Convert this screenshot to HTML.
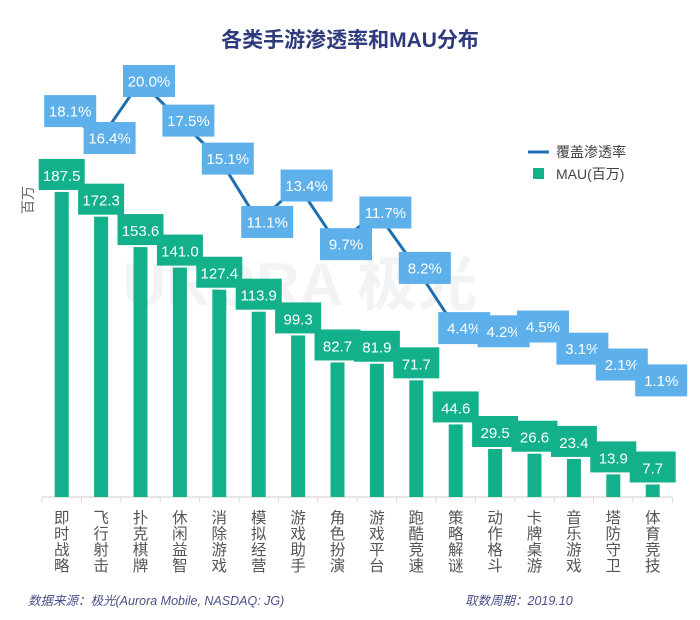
<!DOCTYPE html>
<html><head><meta charset="utf-8"><style>
body{margin:0;background:#fff;font-family:"Liberation Sans","Noto Sans CJK SC",sans-serif;}
svg text{font-family:"Liberation Sans","Noto Sans CJK SC",sans-serif;}
</style></head><body>
<svg id="c" width="700" height="615" xmlns="http://www.w3.org/2000/svg">
<text x="350" y="47" text-anchor="middle" font-size="21" font-weight="bold" fill="#2e3a7c">各类手游渗透率和MAU分布</text>
<text x="300" y="305" font-size="60" font-weight="bold" fill="#f1f3f5" text-anchor="middle">URORA 极光</text>
<text x="28" y="200" font-size="14" fill="#666" transform="rotate(-90 28 200)" text-anchor="middle" dy="5">百万</text>
<g>
<line x1="528" y1="152" x2="549" y2="152" stroke="#1f6fb0" stroke-width="3"/>
<text x="556" y="157" font-size="14" fill="#444">覆盖渗透率</text>
<rect x="533" y="168" width="11" height="11" fill="#13b08c"/>
<text x="556" y="179" font-size="14" fill="#444">MAU(百万)</text>
</g>
<g id="g"></g>
<text x="28" y="605" font-size="12.5" font-style="italic" fill="#4a4f8a">数据来源：极光(Aurora Mobile, NASDAQ: JG)</text>
<text x="465" y="605" font-size="12.5" font-style="italic" fill="#4a4f8a">取数周期：2019.10</text>
</svg>
<script>
const categories=["即时战略","飞行射击","扑克棋牌","休闲益智","消除游戏","模拟经营","游戏助手","角色扮演","游戏平台","跑酷竞速","策略解谜","动作格斗","卡牌桌游","音乐游戏","塔防守卫","体育竞技"];
const mau=[187.5,172.3,153.6,141.0,127.4,113.9,99.3,82.7,81.9,71.7,44.6,29.5,26.6,23.4,13.9,7.7];
const penetration=[18.1,16.4,20.0,17.5,15.1,11.1,13.4,9.7,11.7,8.2,4.4,4.2,4.5,3.1,2.1,1.1];
const NS="http://www.w3.org/2000/svg",g=document.getElementById('g');
const x0=42,step=39.4,base=497;
const xc=i=>x0+step*(i+0.5);
const yb=v=>base-v*1.627;
const yp=v=>397.8-v*15.84;
function mk(t,a){const e=document.createElementNS(NS,t);for(const k in a)e.setAttribute(k,a[k]);g.appendChild(e);return e;}
let ax=mk('line',{x1:x0,y1:base,x2:x0+step*16,y2:base,stroke:'#ddd','stroke-width':1.5});


for(let i=0;i<=16;i++){let t=mk('line',{x1:x0+step*i,y1:base,x2:x0+step*i,y2:base+6,stroke:'#ddd'});

}
categories.forEach((c,i)=>{
  let b=mk('rect',{x:xc(i)-7,y:yb(mau[i]),width:14,height:base-yb(mau[i]),fill:'#13b08c'});
  
  
  let bx=mk('rect',{x:xc(i)-23,y:yb(mau[i])-33,width:46,height:31,fill:'#13b08c'});
  
  
  let t=mk('text',{x:xc(i),y:yb(mau[i])-11,'text-anchor':'middle','font-size':15,fill:'#fff'});
  t.textContent=mau[i].toFixed(1);
  
  
  [...c].forEach((ch,j)=>{let l=mk('text',{x:xc(i),y:523+j*16,'text-anchor':'middle','font-size':15.5,fill:'#555'});l.textContent=ch;
  
  });
});
let pts=penetration.map((v,i)=>xc(i)+','+yp(v)).join(' ');
let pl=mk('polyline',{points:pts,fill:'none',stroke:'#1f6fb0','stroke-width':3});


penetration.forEach((v,i)=>{
  let bx=mk('rect',{x:xc(i)+8.5-26,y:yp(v)-16,width:52,height:32,fill:'#5eb0ea'});
  
  
  let t=mk('text',{x:xc(i)+8.5,y:yp(v)+5.5,'text-anchor':'middle','font-size':15,fill:'#fff'});
  t.textContent=v.toFixed(1)+'%';
  
  
});
</script>
</body></html>
